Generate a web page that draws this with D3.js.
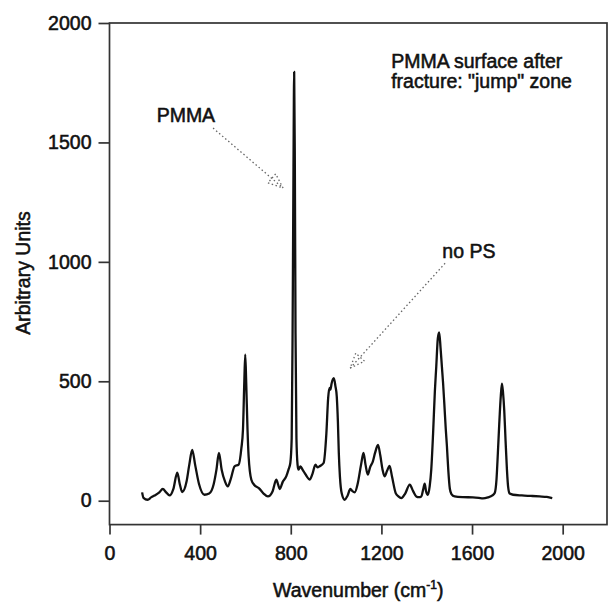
<!DOCTYPE html>
<html>
<head>
<meta charset="utf-8">
<script src="https://cdn.jsdelivr.net/npm/d3@7"></script>
<style>
	body { margin: 0; background: #fff; }
	text { font-family: "Liberation Sans", Arial, sans-serif; fill: #111; stroke: #111; stroke-width: 0.55px; }
</style>
</head>
<body>
<div id="chart-area"></div>
<script>
// Spectrum
const wavenumber = [144, 150, 168, 185, 199, 220, 235, 250, 265, 282, 299, 310, 321, 340, 352, 365, 378, 395, 419, 440,
	460, 472, 483, 495, 510, 522, 535, 552, 570, 582, 589, 595, 599, 603, 609, 614, 626, 640, 659, 680,
	699, 720, 736, 745, 751, 765, 780, 790, 798, 804, 808, 812, 815, 818, 821, 825, 830, 834, 843, 852,
	861, 872, 883, 895, 909, 918, 927, 945, 957, 965, 971, 975, 980, 990, 997, 1003, 1008, 1012, 1017, 1025,
	1038, 1050, 1063, 1072, 1082, 1095, 1110, 1121, 1130, 1140, 1150, 1162, 1172, 1185, 1195, 1205, 1214, 1225, 1236, 1247,
	1263, 1275, 1288, 1305, 1325, 1340, 1354, 1365, 1376, 1385, 1391, 1397, 1405, 1413, 1420, 1428, 1436, 1442, 1449, 1455,
	1461, 1467, 1472, 1478, 1484, 1489, 1495, 1502, 1509, 1523, 1560, 1604, 1630, 1648, 1670, 1690, 1700, 1708, 1714, 1720,
	1727, 1732, 1737, 1742, 1748, 1754, 1759, 1766, 1781, 1820, 1860, 1898, 1930, 1954]
const intensity = [35, 12, 4, 15, 22, 35, 49, 35, 22, 50, 118, 70, 36, 80, 150, 213, 150, 70, 25, 30,
	70, 130, 200, 130, 80, 60, 90, 144, 151, 220, 297, 500, 611, 506, 300, 185, 88, 65, 53, 30,
	18, 40, 88, 65, 49, 80, 102, 130, 158, 260, 700, 1400, 1795, 1400, 700, 260, 150, 130, 144, 130,
	117, 100, 88, 110, 151, 140, 144, 158, 280, 430, 472, 465, 490, 513, 480, 436, 330, 200, 100, 30,
	4, 20, 49, 40, 35, 70, 150, 200, 150, 109, 140, 164, 200, 234, 190, 130, 102, 125, 146, 100,
	32, 18, 11, 30, 67, 40, 18, 15, 18, 50, 71, 40, 25, 60, 130, 280, 460, 560, 680, 705,
	640, 560, 495, 400, 300, 230, 130, 50, 28, 18, 15, 14, 12, 10, 14, 22, 32, 90, 200, 320,
	440, 490, 450, 380, 250, 130, 60, 30, 25, 22, 20, 18, 16, 11]

const xTicks = [0, 400, 800, 1200, 1600, 2000]
const yTicks = [0, 500, 1000, 1500, 2000]

// Annotations (data coordinates)
const labels = [
	{ text: 'PMMA', x: 208, y: 1585 },
	{ text: 'no PS', x: 1469, y: 1016 },
	{ text: 'PMMA surface after', x: 1243, y: 1811 },
	{ text: 'fracture: "jump" zone', x: 1243, y: 1727 }
]
const arrows = [
	{ x1: 457, y1: 1560, x2: 766, y2: 1309 },
	{ x1: 1481, y1: 994, x2: 1062, y2: 555 }
]

const canvas = { width: 608, height: 603 }
const box = { left: 109.5, right: 607, top: 23, bottom: 524.6 }
const fontSize = 19.5

let svg = d3.select('#chart-area')
	.append('svg')
		.attr('width', canvas.width)
		.attr('height', canvas.height)

let x = d3.scaleLinear()
	.domain([0, 2200])
	.range([box.left, box.right + 1])
let y = d3.scaleLinear()
	.domain([-100, 2000])
	.range([box.bottom, box.top])

// Frame
svg.append('rect')
	.attr('x', box.left)
	.attr('y', box.top)
	.attr('width', box.right - box.left)
	.attr('height', box.bottom - box.top)
	.attr('fill', 'none')
	.attr('stroke', '#333')
	.attr('stroke-width', 1.7)

// Axes
let xAxis = d3.axisBottom(x)
	.tickValues(xTicks)
	.tickSize(10)
	.tickPadding(12)
	.tickFormat(d => d)
svg.append('g')
	.attr('transform', `translate(0, ${box.bottom})`)
	.call(xAxis)
let yAxis = d3.axisLeft(y)
	.tickValues(yTicks)
	.tickSize(11)
	.tickPadding(7)
	.tickFormat(d => d)
svg.append('g')
	.attr('transform', `translate(${box.left}, 0)`)
	.call(yAxis)
svg.selectAll('.domain').remove()
svg.selectAll('.tick line').attr('stroke', '#333').attr('stroke-width', 1.7)
svg.selectAll('.tick text').attr('font-size', fontSize).attr('font-family', null)

// Axis titles
let xLabel = svg.append('text')
	.attr('x', (box.left + box.right) / 2)
	.attr('y', 597)
	.attr('text-anchor', 'middle')
	.attr('font-size', fontSize)
xLabel.append('tspan').text('Wavenumber (cm')
xLabel.append('tspan').attr('font-size', 12).attr('dy', -8).text('-1')
xLabel.append('tspan').attr('dy', 8).text(')')

svg.append('text')
	.attr('transform', 'translate(30, 273) rotate(-90)')
	.attr('text-anchor', 'middle')
	.attr('font-size', fontSize)
	.text('Arbitrary Units')

// Spectrum
let line = d3.line()
	.x(i => x(wavenumber[i]))
	.y(i => y(intensity[i]))
	.curve(d3.curveMonotoneX)
svg.append('path')
	.attr('d', line(d3.range(wavenumber.length)))
	.attr('fill', 'none')
	.attr('stroke', '#111')
	.attr('stroke-width', 2.3)
	.attr('stroke-linejoin', 'round')

// Dotted arrows with open heads
arrows.forEach(a => {
	let x1 = x(a.x1), y1 = y(a.y1), x2 = x(a.x2), y2 = y(a.y2)
	let ang = Math.atan2(y2 - y1, x2 - x1)
	let len = 16, spread = 0.38
	let p1 = [x2 - len * Math.cos(ang - spread), y2 - len * Math.sin(ang - spread)]
	let p2 = [x2 - len * Math.cos(ang + spread), y2 - len * Math.sin(ang + spread)]
	let g = svg.append('g')
		.attr('fill', 'none')
		.attr('stroke', '#666')
		.attr('stroke-width', 1.3)
		.attr('stroke-dasharray', '1.5,2.5')
	g.append('line')
		.attr('x1', x1).attr('y1', y1)
		.attr('x2', x2).attr('y2', y2)
	g.append('path')
		.attr('d', `M${p1}L${x2},${y2}L${p2}Z`)
})

labels.forEach(l => {
	svg.append('text')
		.attr('x', x(l.x))
		.attr('y', y(l.y))
		.attr('font-size', fontSize)
		.text(l.text)
})
</script>
</body>
</html>
